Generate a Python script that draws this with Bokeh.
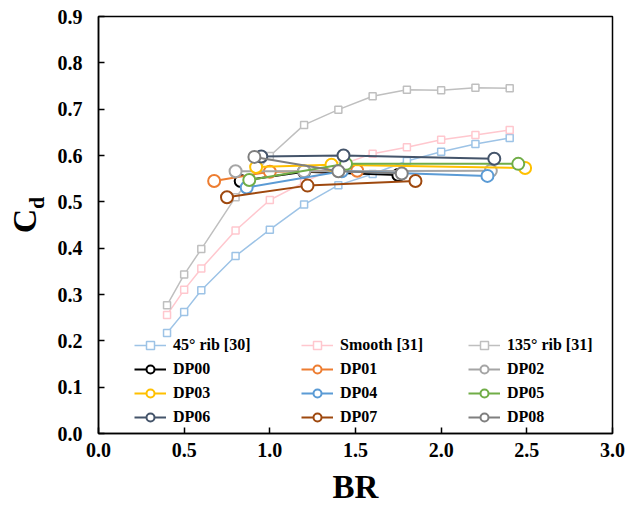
from bokeh.plotting import figure
from bokeh.models import Range1d, Legend, LegendItem, PrintfTickFormatter, FixedTicker
from bokeh.layouts import row
from bokeh.core.properties import value
from bokeh.embed import file_html
from bokeh.resources import INLINE

# Reference series (squares)
br_ref = [0.4, 0.5, 0.6, 0.8, 1.0, 1.2, 1.4, 1.6, 1.8, 2.0, 2.2, 2.4]
cd_rib45 = [0.217, 0.262, 0.309, 0.383, 0.440, 0.494, 0.536, 0.560, 0.588, 0.608, 0.625, 0.638]
cd_smooth = [0.256, 0.310, 0.356, 0.438, 0.504, 0.542, 0.578, 0.604, 0.618, 0.634, 0.644, 0.655]
cd_rib135 = [0.277, 0.343, 0.398, 0.510, 0.599, 0.666, 0.699, 0.728, 0.742, 0.741, 0.746, 0.745]

# Design points (circles)
dp_names = ["DP00", "DP01", "DP02", "DP03", "DP04", "DP05", "DP06", "DP07", "DP08"]
dp_br = [
    [0.83, 1.20, 1.75],
    [0.675, 1.00, 1.51],
    [0.80, 1.20, 2.29],
    [0.92, 1.36, 2.49],
    [0.865, 1.42, 2.27],
    [0.88, 1.445, 2.45],
    [0.95, 1.43, 2.31],
    [0.75, 1.22, 1.85],
    [0.91, 1.40, 1.77],
]
dp_cd = [
    [0.545, 0.565, 0.558],
    [0.545, 0.565, 0.567],
    [0.566, 0.566, 0.567],
    [0.575, 0.580, 0.573],
    [0.531, 0.566, 0.556],
    [0.547, 0.582, 0.582],
    [0.598, 0.600, 0.593],
    [0.510, 0.535, 0.545],
    [0.597, 0.566, 0.561],
]
dp_colors = ["#000000", "#ED7D31", "#A5A5A5", "#FFC000", "#5B9BD5",
             "#70AD47", "#44546A", "#9E480E", "#7F7F7F"]

ref_names = ["45° rib [30]", "Smooth [31]", "135° rib [31]"]
ref_colors = ["#9DC3E6", "#FFC7CE", "#BFBFBF"]
ref_vals = [cd_rib45, cd_smooth, cd_rib135]

x_ticks = [0.0, 0.5, 1.0, 1.5, 2.0, 2.5, 3.0]
y_ticks = [0.0, 0.1, 0.2, 0.3, 0.4, 0.5, 0.6, 0.7, 0.8, 0.9]
y_title_main = ["C"]
y_title_sub = ["d"]

FONT = "Liberation Serif"
LEFT_W = 54

# narrow panel holding the y-axis title "C" with subscript "d"
fl = figure(width=LEFT_W, height=508, output_backend="svg", toolbar_location=None,
            x_range=Range1d(0, LEFT_W), y_range=Range1d(0, 508),
            min_border=0, min_border_left=0, min_border_right=0,
            min_border_top=0, min_border_bottom=0)
fl.axis.visible = False
fl.grid.visible = False
fl.outline_line_color = None
fl.text(x=[24], y=[259], text=y_title_main, angle=1.5708,
        text_font=value(FONT), text_font_style="bold", text_font_size="34px",
        text_color="black", text_align="center", text_baseline="middle")
fl.text(x=[36], y=[281], text=y_title_sub, angle=1.5708,
        text_font=value(FONT), text_font_style="bold", text_font_size="22px",
        text_color="black", text_align="center", text_baseline="middle")

p = figure(width=630 - LEFT_W, height=508, output_backend="svg", toolbar_location=None,
           x_range=Range1d(0, 3), y_range=Range1d(0, 0.9),
           min_border_left=97 - LEFT_W, min_border_right=18, min_border_top=16,
           min_border_bottom=75)
p.grid.visible = False
p.outline_line_color = "black"
p.outline_line_width = 1.5
p.background_fill_color = "white"
p.border_fill_color = "white"

for ax in (p.xaxis[0], p.yaxis[0]):
    ax.axis_line_color = "black"
    ax.axis_line_width = 1.5
    ax.major_tick_in = 6
    ax.major_tick_out = 0
    ax.major_tick_line_width = 1.5
    ax.minor_tick_line_color = None
    ax.major_label_text_font = FONT
    ax.major_label_text_font_style = "bold"
    ax.major_label_text_font_size = "20px"
    ax.major_label_text_color = "black"
    ax.formatter = PrintfTickFormatter(format="%.1f")

p.xaxis.ticker = FixedTicker(ticks=x_ticks)
p.yaxis.ticker = FixedTicker(ticks=y_ticks)
p.yaxis.major_label_standoff = 16
p.xaxis.major_label_standoff = 9
p.xaxis.axis_label = "BR"
p.xaxis.axis_label_text_font = FONT
p.xaxis.axis_label_text_font_style = "bold"
p.xaxis.axis_label_text_font_size = "33px"
p.xaxis.axis_label_standoff = 9
p.xaxis.axis_label_text_color = "black"

ref_items = []
for name, col, vals in zip(ref_names, ref_colors, ref_vals):
    r1 = p.line(br_ref, vals, line_color=col, line_width=1.5)
    r2 = p.scatter(br_ref, vals, marker="square", size=7, line_color=col,
                   fill_color="white", line_width=1.5)
    ref_items.append(LegendItem(label=name, renderers=[r1, r2]))

dp_items = []
for name, col, xs, ys in zip(dp_names, dp_colors, dp_br, dp_cd):
    r1 = p.line(xs, ys, line_color=col, line_width=2)
    r2 = p.scatter(xs, ys, marker="circle", size=12, line_color=col,
                   fill_color="white", line_width=2)
    dp_items.append(LegendItem(label=name, renderers=[r1, r2]))

all_items = ref_items + dp_items
cols = [all_items[0::3], all_items[1::3], all_items[2::3]]
col_x = [36, 203, 370]
for items, cx in zip(cols, col_x):
    lg = Legend(items=items, location=(cx, 6), orientation="vertical",
                label_text_font=FONT, label_text_font_style="bold",
                label_text_font_size="16px", label_text_color="black",
                glyph_width=32, glyph_height=20, label_height=20,
                label_standoff=7, spacing=4, padding=0, margin=0,
                border_line_alpha=0, background_fill_alpha=0)
    p.add_layout(lg, "center")

layout = row(fl, p, spacing=0)
open("out.html", "w").write(file_html(layout, INLINE))
